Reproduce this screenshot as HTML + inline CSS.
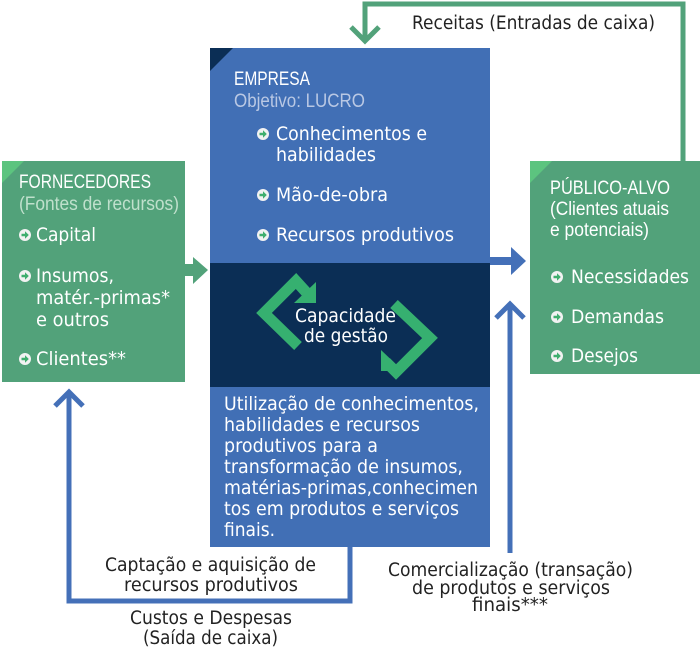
<!DOCTYPE html>
<html><head><meta charset="utf-8"><style>
html,body{margin:0;padding:0;background:#fff;}
svg{display:block;}
text{font-family:"DejaVu Sans","Liberation Sans",sans-serif;}
.w{fill:#fff;font-size:19px;}
.t{fill:#fff;font-family:"Liberation Sans",sans-serif;font-size:19px;}
.d{fill:#222;font-size:18.5px;}
</style></head><body>
<svg width="700" height="652" viewBox="0 0 700 652" xmlns="http://www.w3.org/2000/svg">
<defs>
<g id="b"><circle r="6" fill="#f2f2f2"/><path d="M-3.5,-1.2 h3.5 v-2.6 l3.8,3.8 l-3.8,3.8 v-2.6 h-3.5z" fill="#3fae6e"/></g>
</defs>
<polyline points="683,161 683,4 365,4 365,40" fill="none" stroke="#52a27a" stroke-width="5"/>
<polyline points="351,27 365,41 379,27" fill="none" stroke="#52a27a" stroke-width="5"/>
<text class="d" x="412" y="29" textLength="243" lengthAdjust="spacingAndGlyphs">Receitas (Entradas de caixa)</text>

<polyline points="350,547 350,601 69,601 69,392" fill="none" stroke="#4470b8" stroke-width="5"/>
<polyline points="55,406 69,392 83,406" fill="none" stroke="#4470b8" stroke-width="5"/>
<line x1="510" y1="553" x2="510" y2="304" stroke="#4470b8" stroke-width="5"/>
<polyline points="496,318 510,304 524,318" fill="none" stroke="#4470b8" stroke-width="5"/>

<rect x="210" y="48" width="280" height="215" fill="#416fb5"/>
<polygon points="210,48 233,48 210,71" fill="#0b2e55"/>
<rect x="210" y="263" width="280" height="124" fill="#0b2e55"/>
<rect x="210" y="387" width="280" height="160" fill="#416fb5"/>
<rect x="490" y="257" width="24" height="8" fill="#4470b8"/>
<polygon points="511,247 526,261 511,275" fill="#4470b8"/>

<rect x="2" y="161" width="183" height="221" fill="#52a27a"/>
<polygon points="2,161 24,161 2,183" fill="#5cc47f"/>
<rect x="185" y="264" width="10" height="12" fill="#52a27a"/>
<polygon points="193,257 208,270 193,284" fill="#52a27a"/>

<rect x="530" y="161" width="170" height="213" fill="#52a27a"/>
<polygon points="530,161 552,161 530,183" fill="#5cc47f"/>

<polyline points="298,346 264,313 296,281 306,292" fill="none" stroke="#36b070" stroke-width="11"/>
<polygon points="316,282 316,303 294,303" fill="#36b070"/>
<polyline points="394,304 430,338 396,372 386,362" fill="none" stroke="#36b070" stroke-width="11"/>
<polygon points="381,350 381,371 403,371" fill="#36b070"/>

<text class="t" x="234" y="85" textLength="76" lengthAdjust="spacingAndGlyphs">EMPRESA</text>
<text class="t" x="234" y="107" textLength="131" lengthAdjust="spacingAndGlyphs" style="fill:#b9c8e4">Objetivo: LUCRO</text>
<use href="#b" x="263" y="134"/>
<text class="w" x="276" y="140" textLength="151" lengthAdjust="spacingAndGlyphs">Conhecimentos e</text>
<text class="w" x="276" y="161" textLength="100" lengthAdjust="spacingAndGlyphs">habilidades</text>
<use href="#b" x="263" y="195"/>
<text class="w" x="276" y="201" textLength="112" lengthAdjust="spacingAndGlyphs">Mão-de-obra</text>
<use href="#b" x="263" y="235"/>
<text class="w" x="276" y="241" textLength="178" lengthAdjust="spacingAndGlyphs">Recursos produtivos</text>
<text class="w" x="295" y="322" textLength="101" lengthAdjust="spacingAndGlyphs">Capacidade</text>
<text class="w" x="304" y="342" textLength="84" lengthAdjust="spacingAndGlyphs">de gestão</text>
<text class="w" x="224" y="410" textLength="255" lengthAdjust="spacingAndGlyphs">Utilização de conhecimentos,</text>
<text class="w" x="224" y="431" textLength="196" lengthAdjust="spacingAndGlyphs">habilidades e recursos</text>
<text class="w" x="224" y="452" textLength="154" lengthAdjust="spacingAndGlyphs">produtivos para a</text>
<text class="w" x="224" y="473" textLength="239" lengthAdjust="spacingAndGlyphs">transformação de insumos,</text>
<text class="w" x="224" y="494" textLength="254" lengthAdjust="spacingAndGlyphs">matérias-primas,conhecimen</text>
<text class="w" x="224" y="515" textLength="235" lengthAdjust="spacingAndGlyphs">tos em produtos e serviços</text>
<text class="w" x="224" y="536" textLength="51" lengthAdjust="spacingAndGlyphs">finais.</text>

<text class="t" x="19" y="188" textLength="132" lengthAdjust="spacingAndGlyphs">FORNECEDORES</text>
<text class="t" x="19" y="210" textLength="160" lengthAdjust="spacingAndGlyphs" style="fill:#bfe0cc">(Fontes de recursos)</text>
<use href="#b" x="25" y="235"/>
<text class="w" x="36" y="241" textLength="60" lengthAdjust="spacingAndGlyphs">Capital</text>
<use href="#b" x="25" y="276"/>
<text class="w" x="36" y="282" textLength="78" lengthAdjust="spacingAndGlyphs">Insumos,</text>
<text class="w" x="36" y="304" textLength="134" lengthAdjust="spacingAndGlyphs">matér.-primas*</text>
<text class="w" x="36" y="326" textLength="73" lengthAdjust="spacingAndGlyphs">e outros</text>
<use href="#b" x="25" y="359"/>
<text class="w" x="36" y="365" textLength="90" lengthAdjust="spacingAndGlyphs">Clientes**</text>

<text class="t" x="550" y="194" textLength="120" lengthAdjust="spacingAndGlyphs">PÚBLICO-ALVO</text>
<text class="t" x="550" y="215" textLength="119" lengthAdjust="spacingAndGlyphs">(Clientes atuais</text>
<text class="t" x="550" y="236" textLength="99" lengthAdjust="spacingAndGlyphs">e potenciais)</text>
<use href="#b" x="557" y="277"/>
<text class="w" x="571" y="283" textLength="118" lengthAdjust="spacingAndGlyphs">Necessidades</text>
<use href="#b" x="557" y="317"/>
<text class="w" x="571" y="323" textLength="93" lengthAdjust="spacingAndGlyphs">Demandas</text>
<use href="#b" x="557" y="356"/>
<text class="w" x="571" y="362" textLength="67" lengthAdjust="spacingAndGlyphs">Desejos</text>

<text class="d" x="105" y="571" textLength="211" lengthAdjust="spacingAndGlyphs">Captação e aquisição de</text>
<text class="d" x="124" y="591" textLength="174" lengthAdjust="spacingAndGlyphs">recursos produtivos</text>
<text class="d" x="130" y="624" textLength="162" lengthAdjust="spacingAndGlyphs">Custos e Despesas</text>
<text class="d" x="143" y="644" textLength="135" lengthAdjust="spacingAndGlyphs">(Saída de caixa)</text>
<text class="d" x="388" y="576" textLength="245" lengthAdjust="spacingAndGlyphs">Comercialização (transação)</text>
<text class="d" x="412" y="594" textLength="198" lengthAdjust="spacingAndGlyphs">de produtos e serviços</text>
<text class="d" x="472" y="611" textLength="76" lengthAdjust="spacingAndGlyphs">finais***</text>
</svg>
</body></html>
